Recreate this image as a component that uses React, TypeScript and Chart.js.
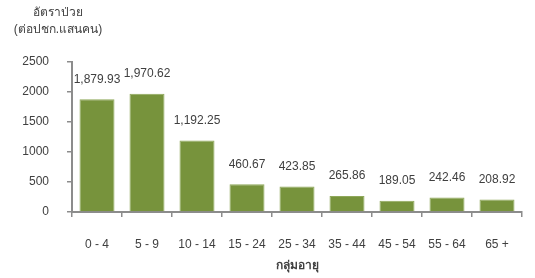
import React, { useEffect, useRef } from "react";
import { Chart, registerables } from "chart.js";

Chart.register(...registerables);

const categories = ["0 - 4", "5 - 9", "10 - 14", "15 - 24", "25 - 34", "35 - 44", "45 - 54", "55 - 64", "65 +"];
const rates = [1879.93, 1970.62, 1192.25, 460.67, 423.85, 265.86, 189.05, 242.46, 208.92];
const yTitleLines = ["อัตราป่วย", "(ต่อปชก.แสนคน)"];
const xTitle = "กลุ่มอายุ";

const FONT = "'Liberation Sans', Tahoma, 'DejaVu Sans', sans-serif";
const TEXT = "#404040";
const AXIS = "#8c8c8c";

const labelPlugin = {
  id: "barLabels",
  afterDatasetsDraw(chart: any) {
    const ctx = chart.ctx;
    const meta = chart.getDatasetMeta(0);
    ctx.save();
    ctx.font = `12px ${FONT}`;
    ctx.fillStyle = TEXT;
    ctx.textAlign = "center";
    ctx.textBaseline = "middle";
    meta.data.forEach((el: any, i: number) => {
      const v = rates[i];
      const s = v.toLocaleString("en-US", { minimumFractionDigits: 2, maximumFractionDigits: 2 });
      ctx.fillText(s, el.x, el.y - 20);
    });
    ctx.restore();
  },
};

const titlePlugin = {
  id: "yTitleBlock",
  afterDraw(chart: any) {
    const ctx = chart.ctx;
    ctx.save();
    ctx.font = `12px ${FONT}`;
    ctx.fillStyle = TEXT;
    ctx.textAlign = "center";
    ctx.textBaseline = "middle";
    ctx.fillText(yTitleLines[0], 58, 13);
    ctx.fillText(yTitleLines[1], 58, 30);
    ctx.restore();
  },
};

export default function App() {
  const ref = useRef<HTMLCanvasElement>(null);
  useEffect(() => {
    document.body.style.margin = "0";
    const chart = new Chart(ref.current!, {
      type: "bar",
      data: {
        labels: categories,
        datasets: [
          {
            data: rates,
            backgroundColor: "#77933C",
            borderColor: "#8fa85a",
            borderWidth: 1,
            barPercentage: 0.7,
            categoryPercentage: 1,
          },
        ],
      },
      options: {
        animation: false,
        responsive: false,
        maintainAspectRatio: false,
        layout: { padding: { left: 0, right: 13, top: 62, bottom: 0 } },
        plugins: { legend: { display: false }, tooltip: { enabled: false }, title: { display: false } },
        scales: {
          x: {
            offset: true,
            grid: {
              offset: true,
              drawOnChartArea: false,
              drawTicks: true,
              tickLength: 5,
              color: AXIS,
              lineWidth: 1.5,
            },
            border: { display: true, color: AXIS, width: 2 },
            ticks: { color: TEXT, font: { family: FONT, size: 12 }, padding: 20, maxRotation: 0 },
            title: {
              display: true,
              text: xTitle,
              color: TEXT,
              font: { family: FONT, size: 12, weight: "bold" },
              padding: { top: 0, bottom: 5 },
            },
            afterFit(scale: any) {
              scale.height = 66;
            },
          },
          y: {
            min: 0,
            max: 2500,
            ticks: {
              stepSize: 500,
              color: TEXT,
              font: { family: FONT, size: 12 },
              padding: 18,
              callback: (v: any) => String(v),
            },
            grid: {
              drawOnChartArea: false,
              drawTicks: true,
              tickLength: 5,
              color: AXIS,
              lineWidth: 1.5,
            },
            border: { display: true, color: AXIS, width: 2 },
            afterFit(scale: any) {
              scale.width = 72;
            },
          },
        },
      },
      plugins: [labelPlugin, titlePlugin],
    });
    return () => chart.destroy();
  }, []);
  return (
    <div style={{ position: "absolute", left: 0, top: 0, width: 535, height: 278, background: "#fff" }}>
      <canvas ref={ref} width={535} height={278} />
    </div>
  );
}
